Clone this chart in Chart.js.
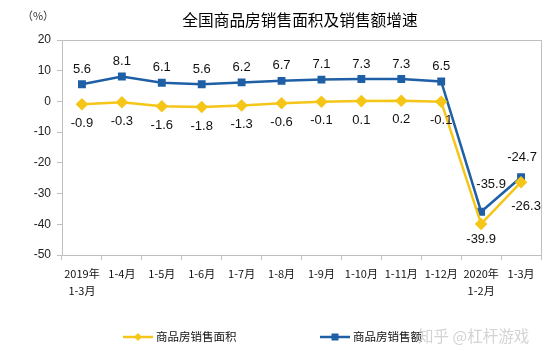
<!DOCTYPE html>
<html><head><meta charset="utf-8">
<script src="https://cdn.jsdelivr.net/npm/chart.js@4/dist/chart.umd.min.js"></script>
<style>html,body{margin:0;padding:0;background:#fff}#wrap{width:554px;height:358px}</style>
</head><body><div id="wrap"><canvas id="c" width="554" height="358"></canvas></div>
<script>
const categories = [['2019年','1-3月'],'1-4月','1-5月','1-6月','1-7月','1-8月','1-9月','1-10月','1-11月','1-12月',['2020年','1-2月'],'1-3月'];
const areaGrowth = [-0.9,-0.3,-1.6,-1.8,-1.3,-0.6,-0.1,0.1,0.2,-0.1,-39.9,-26.3];
const salesGrowth = [5.6,8.1,6.1,5.6,6.2,6.7,7.1,7.3,7.3,6.5,-35.9,-24.7];
const yTicks = [20,10,0,-10,-20,-30,-40,-50];
const seriesNames = ['商品房销售面积','商品房销售额'];
const titleText = '全国商品房销售面积及销售额增速';

const YELLOW = '#F5C518', BLUE = '#1F5FA6';
const CJK = '"Noto Sans CJK SC", "Liberation Sans", sans-serif';
const NUM = '"Liberation Sans", Arial, sans-serif';

const labelOffsets = {
  1: {10: [10,-27], 11: [1,-20]},
  0: {10: [0,15], 11: [5,24]}
};

const custom = {
  id: 'custom',
  beforeDraw(chart){
    const ctx = chart.ctx;
    ctx.save();
    ctx.fillStyle = '#fff';
    ctx.fillRect(0,0,chart.width,chart.height);
    ctx.restore();
  },
  afterDraw(chart){
    const ctx = chart.ctx, a = chart.chartArea;
    ctx.save();
    ctx.strokeStyle = '#bfbfbf'; ctx.lineWidth = 1;
    ctx.strokeRect(Math.round(a.left)+0.5, Math.round(a.top)+0.5, Math.round(a.right-a.left), Math.round(a.bottom-a.top));
    ctx.fillStyle = '#000';
    ctx.font = '15.7px ' + CJK;
    ctx.textAlign = 'center'; ctx.textBaseline = 'middle';
    ctx.fillText(titleText, 300, 20);
    ctx.font = '11px ' + CJK;
    ctx.fillStyle = '#333';
    ctx.fillText('（%）', 38, 16);
    ctx.font = '13px ' + NUM;
    ctx.fillStyle = '#111';
    chart.data.datasets.forEach((ds, di) => {
      const meta = chart.getDatasetMeta(di);
      meta.data.forEach((pt, i) => {
        let off = (labelOffsets[di] && labelOffsets[di][i]) || (di === 1 ? [0,-15] : [0,19]);
        ctx.fillText(ds.data[i].toFixed(1), pt.x + off[0], pt.y + off[1]);
      });
    });
    const ly = 337;
    const items = [{x:123, c:YELLOW, s:'diamond', t:seriesNames[0]}, {x:320, c:BLUE, s:'square', t:seriesNames[1]}];
    items.forEach(it => {
      ctx.strokeStyle = it.c; ctx.lineWidth = 2.5;
      ctx.beginPath(); ctx.moveTo(it.x, ly); ctx.lineTo(it.x+30, ly); ctx.stroke();
      ctx.fillStyle = it.c;
      const cx = it.x+15;
      if (it.s === 'diamond') {
        ctx.beginPath(); ctx.moveTo(cx, ly-4); ctx.lineTo(cx+4, ly); ctx.lineTo(cx, ly+4); ctx.lineTo(cx-4, ly); ctx.closePath(); ctx.fill();
      } else {
        ctx.fillRect(cx-3.5, ly-3.5, 7, 7);
      }
      ctx.fillStyle = '#111';
      ctx.font = '11.5px ' + CJK;
      ctx.textAlign = 'left';
      ctx.fillText(it.t, it.x+33, ly);
    });
    ctx.fillStyle = 'rgba(200,200,200,0.8)';
    ctx.font = '15.5px ' + CJK;
    ctx.textAlign = 'left';
    ctx.fillText('知乎 @杠杆游戏', 418, 336);
    ctx.restore();
  }
};

new Chart(document.getElementById('c'), {
  type: 'line',
  data: {
    labels: categories,
    datasets: [
      {label: seriesNames[0], data: areaGrowth, borderColor: YELLOW, backgroundColor: YELLOW, borderWidth: 2.5, pointStyle: 'rectRot', pointRadius: 4.5, pointHoverRadius: 4.5, tension: 0},
      {label: seriesNames[1], data: salesGrowth, borderColor: BLUE, backgroundColor: BLUE, borderWidth: 2.5, pointStyle: 'rect', pointRadius: 3.8, pointHoverRadius: 3.8, tension: 0}
    ]
  },
  options: {
    responsive: false,
    animation: false,
    devicePixelRatio: 1,
    layout: {padding: {top: 40, right: 13, bottom: 0, left: 0}},
    plugins: {legend: {display: false}, title: {display: false}, tooltip: {enabled: false}},
    scales: {
      x: {
        offset: true,
        grid: {offset: true, drawOnChartArea: false, drawTicks: true, tickLength: 5, color: '#bfbfbf'},
        border: {color: '#bfbfbf'},
        ticks: {color: '#111', font: {size: 11, family: CJK, lineHeight: 1.55}, padding: 5, maxRotation: 0, autoSkip: false},
        afterFit(s){ s.height = 103; }
      },
      y: {
        min: -50, max: 20,
        afterBuildTicks(s){ s.ticks = yTicks.map(v => ({value: v})); },
        grid: {drawOnChartArea: false, drawTicks: true, tickLength: 5, color: '#bfbfbf'},
        border: {color: '#bfbfbf'},
        ticks: {color: '#222', font: {size: 12, family: NUM}, padding: 6},
        afterFit(s){ s.width = 62; }
      }
    }
  },
  plugins: [custom]
});
</script></body></html>
